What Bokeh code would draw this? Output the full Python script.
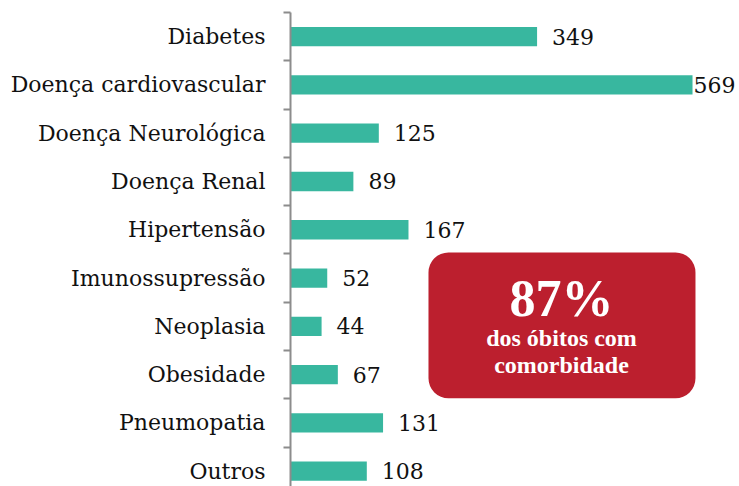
from bokeh.plotting import figure
from bokeh.models import ColumnDataSource, Range1d, FixedTicker, BoxAnnotation, Label
from bokeh.core.properties import value
from bokeh.embed import file_html
from bokeh.resources import INLINE

categories = ["Diabetes", "Doença cardiovascular", "Doença Neurológica", "Doença Renal",
              "Hipertensão", "Imunossupressão", "Neoplasia", "Obesidade", "Pneumopatia", "Outros"]
counts = [349, 569, 125, 89, 167, 52, 44, 67, 131, 108]
highlight_value = "87%"
highlight_lines = ["dos óbitos com", "comorbidade"]

pos = list(range(len(categories)))
offsets = [1 if v == max(counts) else 15 for v in counts]
src = ColumnDataSource(dict(cat=categories, val=counts, pos=pos,
                            txt=[str(v) for v in counts], off=offsets))

p = figure(width=739, height=486, output_backend="svg", toolbar_location=None,
           x_range=Range1d(0, 635.5), y_range=Range1d(9.317, -0.5),
           min_border_left=290, min_border_right=0, min_border_top=12, min_border_bottom=0)
p.outline_line_color = None
p.xgrid.visible = False
p.ygrid.visible = False
p.xaxis.visible = False
p.background_fill_color = "white"
p.border_fill_color = "white"

p.hbar(y="pos", left=0, right="val", height=0.4, source=src,
       fill_color="#38B79F", line_color=None)
p.text(x="val", y="pos", text="txt", x_offset="off", source=src,
       text_baseline="middle", text_align="left",
       text_font=value("DejaVu Serif"), text_font_size="22px", text_color="#111111")

ax = p.yaxis[0]
ax.ticker = FixedTicker(ticks=pos, minor_ticks=[i - 0.5 for i in range(len(categories))])
ax.major_label_overrides = {i: c for i, c in enumerate(categories)}
ax.major_tick_line_color = None
ax.major_tick_out = 0
ax.major_tick_in = 0
ax.minor_tick_out = 7
ax.minor_tick_in = 0
ax.minor_tick_line_color = "#8c8c8c"
ax.minor_tick_line_width = 2
ax.axis_line_color = "#8c8c8c"
ax.axis_line_width = 2
ax.major_label_standoff = 18
ax.major_label_text_font = "DejaVu Serif"
ax.major_label_text_font_size = "22px"
ax.major_label_text_color = "#111111"

box = BoxAnnotation(left=195.3, right=573.2, top=4.47, bottom=7.49,
                    fill_color="#BC1F2E", fill_alpha=1.0, line_color=None,
                    border_radius=20, level="overlay")
p.add_layout(box)

cx = 383.6
p.add_layout(Label(x=cx, y=5.42, text=highlight_value, text_align="center",
                   text_baseline="alphabetic", text_font="Liberation Serif",
                   text_font_style="bold", text_font_size="52px", text_color="white",
                   level="overlay"))
p.add_layout(Label(x=cx, y=6.25, text=highlight_lines[0], text_align="center",
                   text_baseline="alphabetic", text_font="Liberation Serif",
                   text_font_style="bold", text_font_size="24px", text_color="white",
                   level="overlay"))
p.add_layout(Label(x=cx, y=6.81, text=highlight_lines[1], text_align="center",
                   text_baseline="alphabetic", text_font="Liberation Serif",
                   text_font_style="bold", text_font_size="24px", text_color="white",
                   level="overlay"))

open("out.html", "w").write(file_html(p, INLINE))
